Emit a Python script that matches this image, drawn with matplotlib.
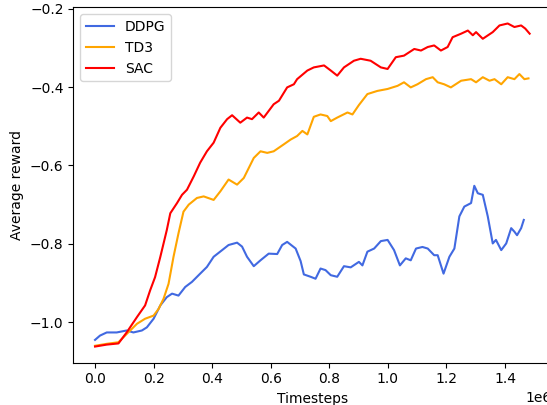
import matplotlib
matplotlib.use("Agg")
from matplotlib import pyplot as plt
import numpy as np

# timesteps in millions
sac_x = [0.0, 0.04, 0.08, 0.108, 0.143, 0.171, 0.188, 0.205, 0.223, 0.245, 0.257, 0.28, 0.297, 0.314,
         0.337, 0.359, 0.382, 0.405, 0.428, 0.451, 0.468, 0.496, 0.519, 0.536, 0.559, 0.576, 0.61, 0.628,
         0.656, 0.679, 0.69, 0.725, 0.747, 0.782, 0.805, 0.827, 0.85, 0.884, 0.907, 0.941, 0.976, 0.999,
         1.027, 1.055, 1.09, 1.113, 1.136, 1.158, 1.181, 1.204, 1.221, 1.25, 1.273, 1.29, 1.301, 1.324,
         1.358, 1.381, 1.409, 1.432, 1.455, 1.469, 1.484]
sac_y = [-1.062, -1.057, -1.054, -1.026, -0.987, -0.957, -0.919, -0.885, -0.833, -0.765, -0.722, -0.696,
         -0.675, -0.662, -0.628, -0.593, -0.564, -0.542, -0.504, -0.482, -0.472, -0.491, -0.478, -0.482,
         -0.465, -0.478, -0.444, -0.435, -0.401, -0.393, -0.38, -0.358, -0.35, -0.345, -0.358, -0.371,
         -0.35, -0.333, -0.328, -0.333, -0.35, -0.354, -0.324, -0.32, -0.303, -0.307, -0.298, -0.294,
         -0.307, -0.298, -0.273, -0.264, -0.256, -0.268, -0.26, -0.277, -0.26, -0.243, -0.238, -0.247,
         -0.243, -0.251, -0.264]

td3_x = [0.0, 0.04, 0.08, 0.108, 0.143, 0.171, 0.2, 0.217, 0.234, 0.251, 0.268, 0.285, 0.302, 0.32,
         0.348, 0.371, 0.405, 0.428, 0.456, 0.485, 0.508, 0.542, 0.565, 0.588, 0.61, 0.645, 0.668, 0.69,
         0.708, 0.725, 0.747, 0.77, 0.793, 0.805, 0.827, 0.862, 0.879, 0.901, 0.93, 0.964, 0.999, 1.033,
         1.055, 1.078, 1.101, 1.13, 1.153, 1.17, 1.192, 1.215, 1.25, 1.284, 1.301, 1.324, 1.347, 1.364,
         1.387, 1.409, 1.432, 1.449, 1.466, 1.48]
td3_y = [-1.06, -1.055, -1.051, -1.03, -1.004, -0.991, -0.983, -0.966, -0.94, -0.902, -0.833, -0.773,
         -0.718, -0.7, -0.683, -0.679, -0.688, -0.666, -0.636, -0.649, -0.632, -0.581, -0.564, -0.568,
         -0.564, -0.546, -0.534, -0.525, -0.512, -0.521, -0.476, -0.47, -0.474, -0.487, -0.478, -0.465,
         -0.47, -0.446, -0.418, -0.41, -0.405, -0.397, -0.388, -0.401, -0.393, -0.38, -0.375, -0.388,
         -0.393, -0.401, -0.384, -0.38, -0.388, -0.375, -0.384, -0.38, -0.393, -0.375, -0.38, -0.367,
         -0.38, -0.378]

ddpg_x = [0.0, 0.017, 0.04, 0.074, 0.108, 0.131, 0.16, 0.177, 0.2, 0.223, 0.245, 0.263, 0.285, 0.308,
          0.331, 0.359, 0.382, 0.405, 0.434, 0.456, 0.485, 0.502, 0.519, 0.542, 0.565, 0.593, 0.622,
          0.639, 0.656, 0.685, 0.702, 0.713, 0.736, 0.753, 0.77, 0.787, 0.805, 0.827, 0.85, 0.873, 0.901,
          0.913, 0.93, 0.953, 0.976, 0.999, 1.021, 1.041, 1.061, 1.078, 1.096, 1.118, 1.136, 1.158, 1.17,
          1.19, 1.21, 1.227, 1.244, 1.261, 1.284, 1.295, 1.307, 1.324, 1.341, 1.358, 1.369, 1.387, 1.404,
          1.421, 1.432, 1.441, 1.455, 1.464]
ddpg_y = [-1.045, -1.034, -1.026, -1.026, -1.021, -1.026, -1.021, -1.013, -0.991, -0.957, -0.936,
          -0.927, -0.932, -0.91, -0.897, -0.876, -0.859, -0.833, -0.816, -0.803, -0.797, -0.807, -0.833,
          -0.857, -0.842, -0.825, -0.826, -0.803, -0.795, -0.812, -0.844, -0.878, -0.884, -0.889, -0.863,
          -0.867, -0.88, -0.884, -0.857, -0.86, -0.846, -0.855, -0.82, -0.812, -0.793, -0.79, -0.816,
          -0.855, -0.837, -0.842, -0.812, -0.808, -0.812, -0.829, -0.829, -0.876, -0.833, -0.812, -0.73,
          -0.705, -0.696, -0.652, -0.671, -0.675, -0.73, -0.799, -0.79, -0.816, -0.799, -0.76, -0.769,
          -0.778, -0.76, -0.739]

fig = plt.figure(figsize=(5.47, 4.05), dpi=100)
ax = fig.add_axes([0.134, 0.1044, 0.874, 0.8775])

ax.plot(np.array(ddpg_x) * 1e6, ddpg_y, color="royalblue", label="DDPG")
ax.plot(np.array(td3_x) * 1e6, td3_y, color="orange", label="TD3")
ax.plot(np.array(sac_x) * 1e6, sac_y, color="red", label="SAC")

ax.set_xlabel("Timesteps")
ax.set_ylabel("Average reward")
ax.legend(loc="upper left")

plt.savefig("out.png", dpi=100)
